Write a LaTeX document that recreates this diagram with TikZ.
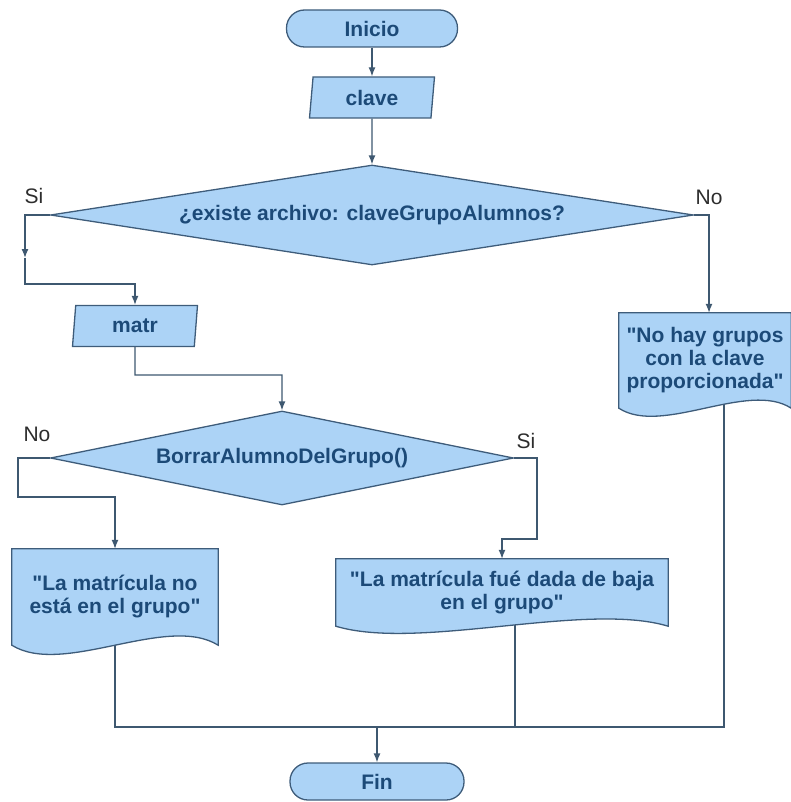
\documentclass[tikz,border=0pt]{standalone}
\usepackage{fontspec}
\setmainfont{Liberation Sans}[Ligatures=TeXOff]
\usetikzlibrary{shapes.geometric,arrows.meta,calc}

\pgfdeclarelayer{lines}
\pgfdeclarelayer{docs}
\pgfsetlayers{lines,docs,main}

\definecolor{boxfill}{RGB}{172,211,246}
\definecolor{boxline}{RGB}{62,92,122}
\definecolor{boxtext}{RGB}{28,74,120}
\definecolor{linecol}{RGB}{62,88,112}
\definecolor{labeltext}{RGB}{45,45,45}

\tikzset{
    base/.style={draw=boxline, fill=boxfill, line width=1.3pt, text=boxtext,
        font=\fontsize{21}{23}\selectfont\bfseries, inner sep=0pt},
    terminal/.style={base, rectangle, rounded corners=18pt, minimum height=37pt},
    datain/.style={base, trapezium, trapezium left angle=77, trapezium right angle=103,
        trapezium stretches body, minimum width=125pt, minimum height=41pt},
    decision/.style={base, diamond, aspect=6},
    docbox/.style={text=boxtext, font=\fontsize{21}{23}\selectfont\bfseries,
        align=center, inner sep=0pt},
    docline/.style={draw=boxline, fill=boxfill, line width=1.3pt},
    flow/.style={draw=linecol, line width=1.3pt, -{Latex[length=9pt,width=7pt]}},
    link/.style={draw=linecol, line width=1.3pt},
    branch/.style={text=labeltext, font=\fontsize{21}{23}\selectfont, inner sep=0pt},
}

% document shape with a wavy bottom
\newcommand{\docshape}[2]{%
    \draw[docline] (#1.south west) -- (#1.north west) -- (#1.north east) -- (#1.south east)
        .. controls ($(#1.south)!0.5!(#1.south east)+(0,-#2)$)
        and ($(#1.south)!0.5!(#1.south west)+(0,#2)$) .. (#1.south west) -- cycle;}

\begin{document}
\begin{tikzpicture}[x=1pt, y=-1pt]

    \useasboundingbox (0,0) rectangle (791,802);

    % Start and input
    \node[terminal, minimum width=171pt] (inicio) at (372,28.5) {Inicio};
    \node[datain] (clave) at (372,97.5) {clave};

    % First decision
    \node[decision, minimum width=643pt, minimum height=100pt] (existe) at (372,215)
        {¿existe archivo: claveGrupoAlumnos?};
    \node[branch] (siExiste) at (34,196) {Si};
    \node[branch] (noExiste) at (709,197) {No};

    \node[datain] (matr) at (135,326) {matr};

    % Second decision
    \node[decision, minimum width=463pt, minimum height=94pt] (borrar) at (282,458)
        {BorrarAlumnoDelGrupo()};
    \node[branch] (noBorrar) at (37,434) {No};
    \node[branch] (siBorrar) at (526,441) {Si};

    % Output documents
    \node[docbox, minimum width=206pt, minimum height=96pt] (noesta) at (115,597)
        {"La matrícula no\\está en el grupo"};
    \node[docbox, minimum width=332pt, minimum height=67pt] (baja) at (502,592.5)
        {"La matrícula fué dada de baja\\en el grupo"};
    \node[docbox, minimum width=172pt, minimum height=95pt] (nohay) at (705,360.5)
        {"No hay grupos\\con la clave\\proporcionada"};

    \node[terminal, minimum width=174pt] (fin) at (377,781.5) {Fin};

    % Bends of the connectors
    \coordinate (siA) at (25,258);
    \coordinate (siB) at (25,284);
    \coordinate (noA) at (709,215);
    \coordinate (m1) at (135,375);
    \coordinate (b1) at (18,458);
    \coordinate (b2) at (18,497);
    \coordinate (s1) at (537,458);
    \coordinate (s2) at (537,539);
    \coordinate (j1) at (115,727);
    \coordinate (j2) at (515,727);
    \coordinate (j3) at (724,727);
    \coordinate (jf) at (377,727);

    \begin{pgfonlayer}{lines}
        \draw[flow] (inicio) -- (clave);
        \draw[flow] (clave) -- (existe);

        \draw[flow] (existe.west) -| (siA);
        \draw[flow] (siA) -- (siB) -| (matr.north);
        \draw[flow] (existe.east) -- (noA) -- (noA |- nohay.north);

        \draw[flow] (matr.south) -- (m1) -| (borrar.north);

        \draw[flow] (borrar.west) -- (b1) -- (b2) -| (noesta.north);
        \draw[flow] (borrar.east) -- (s1) -- (s2) -| (baja.north);

        % Joining to the end
        \draw[link] (noesta.center) -- (j1) -- (j3) -- (nohay.center -| j3);
        \draw[link] (baja.center -| j2) -- (j2);
        \draw[flow] (jf) -- (fin.north);
    \end{pgfonlayer}

    \begin{pgfonlayer}{docs}
        \docshape{noesta}{32}
        \docshape{baja}{25}
        \docshape{nohay}{28}
    \end{pgfonlayer}

\end{tikzpicture}
\end{document}
